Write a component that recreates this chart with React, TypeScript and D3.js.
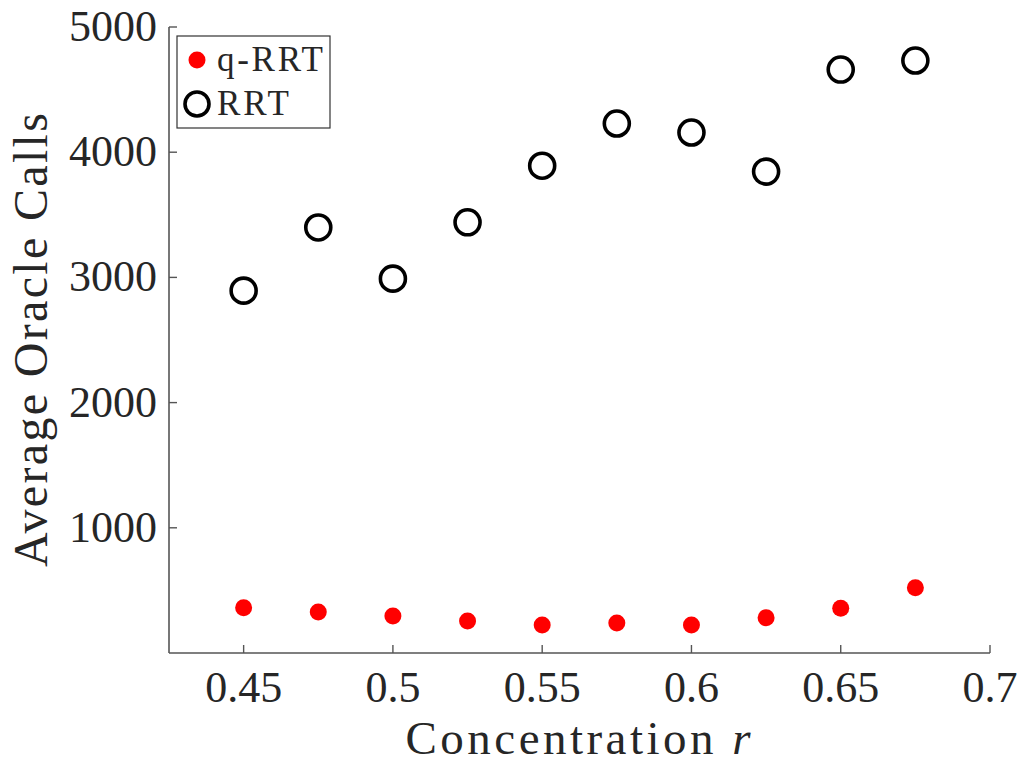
import * as d3 from 'd3';

// concentration r values
const concentration = [0.45, 0.475, 0.5, 0.525, 0.55, 0.575, 0.6, 0.625, 0.65, 0.675];
// average oracle calls, q-RRT
const qrrtCalls = [362, 328, 296, 256, 224, 240, 224, 282, 357, 522];
// average oracle calls, RRT
const rrtCalls = [2894, 3399, 2990, 3440, 3892, 4229, 4157, 3845, 4660, 4732];

const xTicks = [0.45, 0.5, 0.55, 0.6, 0.65, 0.7];
const yTicks = [1000, 2000, 3000, 4000, 5000];

const W = 1021;
const H = 765;
const FONT = '"Liberation Serif", "Times New Roman", serif';
const AXIS = '#555';
const TEXT = '#262626';

export default function App() {
  const left = 169;
  const right = 990;
  const top = 27;
  const bottom = 653;

  const x = d3.scaleLinear().domain([0.425, 0.7]).range([left, right]);
  const y = d3.scaleLinear().domain([0, 5000]).range([bottom, top]);
  const tickLen = 8;

  return (
    <svg width={W} height={H} style={{ position: 'absolute', left: 0, top: 0, background: '#fff' }}>
      {/* axes */}
      <line x1={left} x2={left} y1={top} y2={bottom} stroke={AXIS} strokeWidth={1.6} />
      <line x1={left} x2={right} y1={bottom} y2={bottom} stroke={AXIS} strokeWidth={1.6} />

      {xTicks.map(t => (
        <g key={`x${t}`}>
          <line x1={x(t)} x2={x(t)} y1={bottom} y2={bottom - tickLen} stroke={AXIS} strokeWidth={1.4} />
          <text x={x(t)} y={702} textAnchor="middle" fontFamily={FONT} fontSize={44} fill={TEXT}>
            {String(t)}
          </text>
        </g>
      ))}

      {yTicks.map(t => (
        <g key={`y${t}`}>
          <line x1={left} x2={left + tickLen} y1={y(t)} y2={y(t)} stroke={AXIS} strokeWidth={1.4} />
          <text x={157} y={y(t) + 14} textAnchor="end" fontFamily={FONT} fontSize={44} fill={TEXT}>
            {t}
          </text>
        </g>
      ))}

      {/* axis titles */}
      <text x={578} y={754} textAnchor="middle" fontFamily={FONT} fontSize={47} fill={TEXT}
        textLength={345}>
        Concentration <tspan fontStyle="italic">r</tspan>
      </text>
      <text transform={`translate(47,340) rotate(-90)`} textAnchor="middle" fontFamily={FONT}
        fontSize={48} fill={TEXT} textLength={454}>
        Average Oracle Calls
      </text>

      {/* RRT: open black circles */}
      {concentration.map((c, i) => (
        <circle key={`r${i}`} cx={x(c)} cy={y(rrtCalls[i])} r={12.5} fill="none" stroke="#000" strokeWidth={3.6} />
      ))}

      {/* q-RRT: filled red dots */}
      {concentration.map((c, i) => (
        <circle key={`q${i}`} cx={x(c)} cy={y(qrrtCalls[i])} r={8.5} fill="#ff0000" />
      ))}

      {/* legend */}
      <rect x={177} y={36} width={153} height={92} fill="#fff" stroke="#333" strokeWidth={1.2} />
      <circle cx={197} cy={60} r={8.5} fill="#ff0000" />
      <text x={217} y={71} fontFamily={FONT} fontSize={35} fill={TEXT} textLength={106}>q-RRT</text>
      <circle cx={197} cy={104} r={12} fill="none" stroke="#000" strokeWidth={3.6} />
      <text x={217} y={115} fontFamily={FONT} fontSize={35} fill={TEXT} textLength={72}>RRT</text>
    </svg>
  );
}
